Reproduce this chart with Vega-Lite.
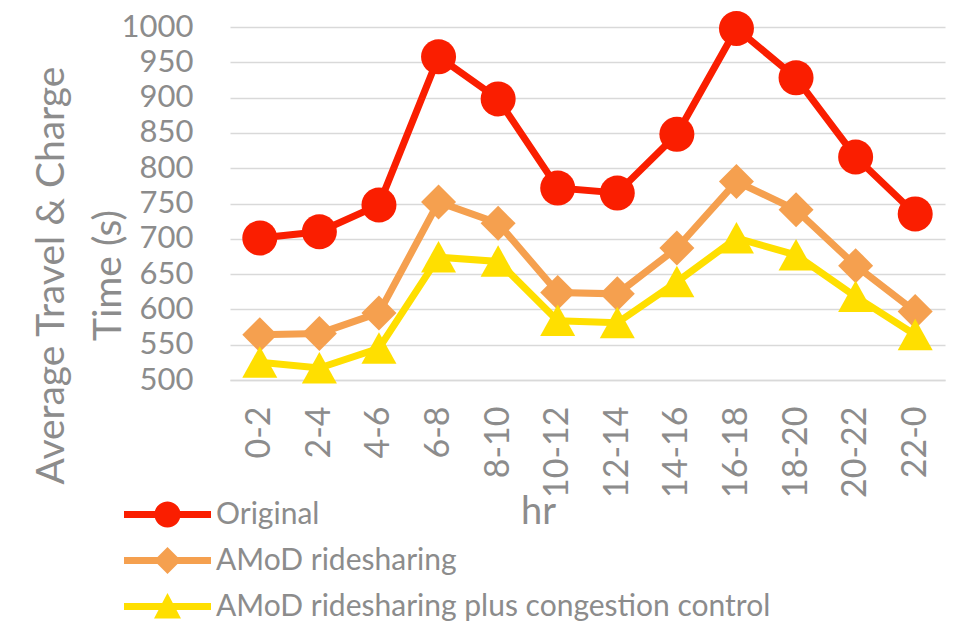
{
  "$schema": "https://vega.github.io/schema/vega-lite/v6.json",
  "autosize": "none",
  "width": 715,
  "height": 353,
  "padding": {"left": 230, "top": 27, "right": 26, "bottom": 249},
  "background": "white",
  "config": {
    "font": "Lato",
    "view": {"stroke": null}
  },
  "data": {
    "values": [
      {"hr": "0-2", "series": "Original", "time": 701},
      {"hr": "2-4", "series": "Original", "time": 710},
      {"hr": "4-6", "series": "Original", "time": 748},
      {"hr": "6-8", "series": "Original", "time": 958},
      {"hr": "8-10", "series": "Original", "time": 898},
      {"hr": "10-12", "series": "Original", "time": 772},
      {"hr": "12-14", "series": "Original", "time": 765},
      {"hr": "14-16", "series": "Original", "time": 848},
      {"hr": "16-18", "series": "Original", "time": 998},
      {"hr": "18-20", "series": "Original", "time": 928},
      {"hr": "20-22", "series": "Original", "time": 816},
      {"hr": "22-0", "series": "Original", "time": 735},
      {"hr": "0-2", "series": "AMoD ridesharing", "time": 564},
      {"hr": "2-4", "series": "AMoD ridesharing", "time": 566},
      {"hr": "4-6", "series": "AMoD ridesharing", "time": 595},
      {"hr": "6-8", "series": "AMoD ridesharing", "time": 752},
      {"hr": "8-10", "series": "AMoD ridesharing", "time": 722},
      {"hr": "10-12", "series": "AMoD ridesharing", "time": 624},
      {"hr": "12-14", "series": "AMoD ridesharing", "time": 622},
      {"hr": "14-16", "series": "AMoD ridesharing", "time": 687},
      {"hr": "16-18", "series": "AMoD ridesharing", "time": 781},
      {"hr": "18-20", "series": "AMoD ridesharing", "time": 741},
      {"hr": "20-22", "series": "AMoD ridesharing", "time": 662},
      {"hr": "22-0", "series": "AMoD ridesharing", "time": 597},
      {"hr": "0-2", "series": "AMoD ridesharing plus congestion control", "time": 525},
      {"hr": "2-4", "series": "AMoD ridesharing plus congestion control", "time": 517},
      {"hr": "4-6", "series": "AMoD ridesharing plus congestion control", "time": 545},
      {"hr": "6-8", "series": "AMoD ridesharing plus congestion control", "time": 674},
      {"hr": "8-10", "series": "AMoD ridesharing plus congestion control", "time": 668},
      {"hr": "10-12", "series": "AMoD ridesharing plus congestion control", "time": 584},
      {"hr": "12-14", "series": "AMoD ridesharing plus congestion control", "time": 581},
      {"hr": "14-16", "series": "AMoD ridesharing plus congestion control", "time": 639},
      {"hr": "16-18", "series": "AMoD ridesharing plus congestion control", "time": 701},
      {"hr": "18-20", "series": "AMoD ridesharing plus congestion control", "time": 677},
      {"hr": "20-22", "series": "AMoD ridesharing plus congestion control", "time": 618},
      {"hr": "22-0", "series": "AMoD ridesharing plus congestion control", "time": 564}
    ]
  },
  "encoding": {
    "x": {
      "field": "hr",
      "type": "nominal",
      "sort": null,
      "axis": {
        "title": "hr",
        "titleFontSize": 38,
        "titleFontWeight": "normal",
        "titleColor": "#8c8c8c",
        "titleX": 308,
        "titleY": 132,
        "titleBaseline": "middle",
        "labelAngle": -90,
        "labelFontSize": 34,
        "labelColor": "#8c8c8c",
        "labelPadding": 26,
        "ticks": false,
        "domainColor": "#d9d9d9",
        "domainWidth": 1.5,
        "grid": false
      }
    },
    "y": {
      "field": "time",
      "type": "quantitative",
      "scale": {"domain": [500, 1000], "nice": false, "zero": false},
      "axis": {
        "title": ["Average Travel & Charge", "Time (s)"],
        "titleFontSize": 39,
        "titleFontWeight": "normal",
        "titleColor": "#8c8c8c",
        "titleAngle": -90,
        "titleAlign": "center",
        "titleBaseline": "alphabetic",
        "titleLineHeight": 57,
        "titleX": -167,
        "titleY": 248,
        "values": [500, 550, 600, 650, 700, 750, 800, 850, 900, 950, 1000],
        "format": "d",
        "labelFontSize": 31,
        "labelColor": "#8c8c8c",
        "labelPadding": 37,
        "ticks": false,
        "domain": false,
        "gridColor": "#d9d9d9",
        "gridWidth": 1.5
      }
    }
  },
  "layer": [
    {
      "mark": {"type": "line", "strokeWidth": 7},
      "encoding": {
        "color": {
          "field": "series",
          "type": "nominal",
          "legend": null,
          "scale": {
            "domain": ["Original", "AMoD ridesharing", "AMoD ridesharing plus congestion control"],
            "range": ["#fa1e00", "#f5a04f", "#ffdf00"]
          }
        }
      }
    },
    {
      "mark": {"type": "point", "filled": true, "opacity": 1, "size": 1225},
      "encoding": {
        "shape": {
          "condition": [
            {"test": "datum.series == 'Original'", "value": "M1,0A1,1 0 1,1 -1,0A1,1 0 1,1 1,0Z"},
            {"test": "datum.series == 'AMoD ridesharing'", "value": "M0,-1L1,0L0,1L-1,0Z"}
          ],
          "value": "M0,-0.92L1,0.88L-1,0.88Z"
        },
        "color": {
          "field": "series",
          "type": "nominal",
          "legend": null
        }
      }
    },
    {
      "transform": [{"filter": "false"}],
      "mark": {"type": "point", "filled": true, "opacity": 1},
      "encoding": {
        "shape": {
          "field": "series",
          "type": "nominal",
          "scale": {
            "domain": ["Original", "AMoD ridesharing", "AMoD ridesharing plus congestion control"],
            "range": [
              "M-2,-0.16H2V0.16H-2Z M0.6,0A0.6,0.6 0 1,1 -0.6,0A0.6,0.6 0 1,1 0.6,0Z",
              "M-2,-0.16H2V0.16H-2Z M0,-0.62L0.62,0L0,0.62L-0.62,0Z",
              "M-2,-0.16H2V0.16H-2Z M0,-0.62L0.62,0.55L-0.62,0.55Z"
            ]
          },
          "legend": {
            "orient": "none",
            "legendX": -85,
            "legendY": 465,
            "direction": "vertical",
            "title": null,
            "padding": 0,
            "symbolSize": 1892,
            "labelFontSize": 30,
            "labelColor": "#8c8c8c",
            "labelOffset": 26,
            "labelLimit": 1000,
            "rowPadding": 8
          }
        },
        "color": {
          "field": "series",
          "type": "nominal",
          "legend": {
            "orient": "none",
            "legendX": -85,
            "legendY": 465,
            "direction": "vertical",
            "title": null,
            "padding": 0,
            "symbolSize": 1892,
            "labelFontSize": 30,
            "labelColor": "#8c8c8c",
            "labelOffset": 26,
            "labelLimit": 1000,
            "rowPadding": 8
          }
        }
      }
    }
  ],
  "resolve": {"legend": {"color": "independent", "shape": "independent"}}
}
